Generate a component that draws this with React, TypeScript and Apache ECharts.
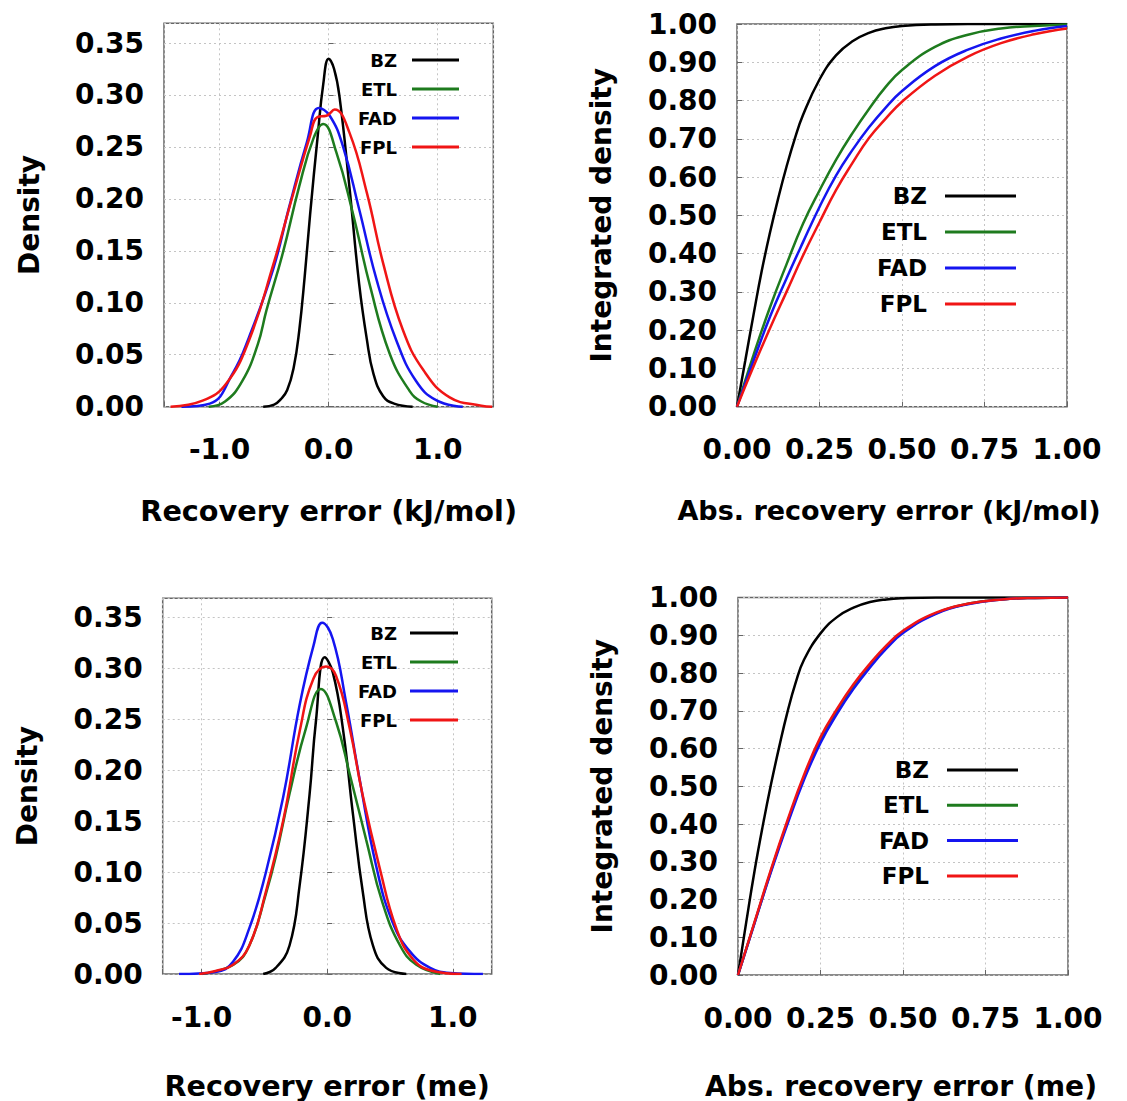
import React, { useEffect, useRef } from 'react';
import * as echarts from 'echarts';

// ---------- data ----------
const seriesNames = ['BZ', 'ETL', 'FAD', 'FPL'];
const seriesColors = ['#000000', '#1e7b1e', '#1515f0', '#f01515'];

// Top-left: density of recovery error (kJ/mol)
const kjBZx = [-0.6, -0.5, -0.44, -0.38, -0.32, -0.27, -0.22, -0.17, -0.1, -0.05, 0.0, 0.05, 0.1, 0.19, 0.28, 0.35, 0.41, 0.5, 0.6, 0.77];
const kjBZy = [0, 0.002, 0.007, 0.016, 0.038, 0.073, 0.125, 0.185, 0.261, 0.31, 0.335, 0.325, 0.298, 0.212, 0.118, 0.065, 0.032, 0.01, 0.003, 0];
const kjETLx = [-1.1, -0.95, -0.79, -0.65, -0.57, -0.42, -0.27, -0.14, -0.05, 0.07, 0.22, 0.38, 0.56, 0.74, 0.85, 1.0];
const kjETLy = [0, 0.005, 0.025, 0.06, 0.093, 0.148, 0.212, 0.258, 0.272, 0.245, 0.187, 0.116, 0.051, 0.0155, 0.005, 0];
const kjFADx = [-1.35, -1.09, -0.88, -0.73, -0.51, -0.36, -0.2, -0.09, 0.01, 0.13, 0.28, 0.44, 0.62, 0.8, 0.99, 1.23];
const kjFADy = [0, 0.003, 0.032, 0.067, 0.132, 0.193, 0.2545, 0.2875, 0.28, 0.251, 0.19, 0.122, 0.064, 0.025, 0.006, 0];
const kjFPLx = [-1.45, -1.15, -0.94, -0.73, -0.51, -0.33, -0.17, -0.1, -0.02, 0.055, 0.19, 0.35, 0.5, 0.68, 0.87, 1.11, 1.4, 1.5];
const kjFPLy = [0, 0.006, 0.022, 0.064, 0.136, 0.203, 0.261, 0.279, 0.28, 0.286, 0.264, 0.206, 0.138, 0.074, 0.035, 0.009, 0.001, 0];

// Bottom-left: density of recovery error (me)
const meBZx = [-0.51, -0.41, -0.3, -0.22, -0.14, -0.09, -0.02, 0.045, 0.125, 0.205, 0.284, 0.364, 0.47, 0.63];
const meBZy = [0, 0.006, 0.028, 0.0865, 0.177, 0.248, 0.311, 0.296, 0.241, 0.157, 0.08, 0.028, 0.006, 0];
const meETLx = [-1.0, -0.75, -0.62, -0.49, -0.41, -0.3, -0.17, -0.05, 0.07, 0.18, 0.31, 0.44, 0.58, 0.71, 0.9];
const meETLy = [0, 0.009, 0.028, 0.078, 0.115, 0.177, 0.241, 0.28, 0.248, 0.196, 0.132, 0.07, 0.028, 0.009, 0];
const meFADx = [-1.18, -0.89, -0.75, -0.62, -0.49, -0.35, -0.22, -0.11, -0.04, 0.045, 0.15, 0.26, 0.39, 0.52, 0.66, 0.82, 0.98, 1.24];
const meFADy = [0, 0.002, 0.012, 0.045, 0.099, 0.174, 0.264, 0.322, 0.345, 0.329, 0.267, 0.19, 0.106, 0.051, 0.022, 0.006, 0.001, 0];
const meFPLx = [-1.02, -0.89, -0.75, -0.62, -0.49, -0.35, -0.22, -0.11, -0.01, 0.07, 0.18, 0.28, 0.42, 0.55, 0.68, 0.84, 1.07];
const meFPLy = [0, 0.003, 0.009, 0.028, 0.08, 0.151, 0.238, 0.29, 0.302, 0.293, 0.241, 0.177, 0.103, 0.045, 0.015, 0.003, 0];

// Right column: integrated density vs abs. recovery error
const cdfBZx = [0, 0.025, 0.05, 0.075, 0.1, 0.125, 0.15, 0.175, 0.2, 0.25, 0.3, 0.35, 0.4, 0.45, 0.5, 0.6, 0.7, 1.0];
const cdfX = [0, 0.05, 0.1, 0.15, 0.2, 0.25, 0.3, 0.35, 0.4, 0.45, 0.5, 0.6, 0.7, 0.8, 0.9, 1.0];

const kjCdfBZ = [0, 0.12, 0.24, 0.355, 0.455, 0.545, 0.627, 0.7, 0.762, 0.855, 0.918, 0.955, 0.977, 0.989, 0.995, 0.999, 1.0, 1.0];
const kjCdfETL = [0, 0.135, 0.26, 0.372, 0.478, 0.565, 0.645, 0.715, 0.778, 0.835, 0.88, 0.94, 0.972, 0.988, 0.995, 0.999];
const kjCdfFAD = [0, 0.12, 0.235, 0.335, 0.43, 0.522, 0.604, 0.671, 0.73, 0.781, 0.825, 0.89, 0.933, 0.962, 0.982, 0.995];
const kjCdfFPL = [0, 0.105, 0.205, 0.3, 0.395, 0.482, 0.566, 0.637, 0.702, 0.752, 0.797, 0.865, 0.915, 0.95, 0.973, 0.988];

const meCdfBZ = [0, 0.14, 0.275, 0.395, 0.505, 0.605, 0.697, 0.775, 0.835, 0.905, 0.948, 0.973, 0.988, 0.995, 0.998, 1.0, 1.0, 1.0];
const meCdfETL = [0, 0.138, 0.276, 0.405, 0.523, 0.622, 0.698, 0.764, 0.82, 0.869, 0.909, 0.958, 0.984, 0.995, 0.999, 1.0];
const meCdfFAD = [0, 0.137, 0.273, 0.4, 0.517, 0.615, 0.692, 0.758, 0.815, 0.865, 0.906, 0.957, 0.983, 0.995, 0.999, 1.0];
const meCdfFPL = [0, 0.14, 0.28, 0.41, 0.53, 0.63, 0.705, 0.77, 0.825, 0.873, 0.912, 0.96, 0.984, 0.995, 0.999, 1.0];

const densityYTicks = 0.05;
const cdfYTicks = 0.1;
const cdfXTicks = 0.25;

// ---------- helpers ----------
const FONT = 'DejaVu Sans';
const zip = (xs: number[], ys: number[]) => xs.map((x, i) => [x, ys[i]]);

const labelStyle = { fontFamily: FONT, fontWeight: 'bold' as const, fontSize: 28, color: '#000' };
const splitLine = { show: true, lineStyle: { color: '#c4c4c4', type: [2, 3] as any, width: 1 } };
const axisTick = { show: true, inside: true, length: 5, lineStyle: { color: '#666', width: 1 } };

const isMultiple = (v: number, step: number) => Math.abs(v / step - Math.round(v / step)) < 1e-6;

function mkSeries(name: string, idx: number, xs: number[], ys: number[]) {
  const c = seriesColors[seriesNames.indexOf(name)];
  return {
    type: 'line',
    name,
    xAxisIndex: idx,
    yAxisIndex: idx,
    data: zip(xs, ys),
    symbol: 'none',
    showSymbol: false,
    smooth: 0.45,
    clip: true,
    lineStyle: { width: 2.5, color: c },
    itemStyle: { color: c },
    z: 3,
  };
}

function mkLegend(right: number, top: number, fontSize: number, lineH: number, gap: number, width: number, pad: number) {
  return {
    data: seriesNames,
    orient: 'vertical',
    align: 'right',
    right,
    top,
    padding: 0,
    itemGap: gap,
    itemWidth: width,
    itemHeight: 3,
    icon: 'rect',
    selectedMode: false,
    itemStyle: { borderWidth: 0 },
    textStyle: {
      fontFamily: FONT,
      fontWeight: 'bold',
      fontSize,
      lineHeight: lineH,
      color: '#000',
      padding: [0, pad, 0, 0],
    },
  };
}

function densityX(idx: number, lim: number, name: string, nameGap: number, nameSize: number) {
  return {
    type: 'value',
    gridIndex: idx,
    min: -lim,
    max: lim,
    splitNumber: 3,
    name,
    nameLocation: 'middle',
    nameGap,
    nameTextStyle: { ...labelStyle, fontSize: nameSize },
    axisLine: { show: false },
    axisTick,
    splitLine,
    axisLabel: {
      ...labelStyle,
      margin: 29,
      formatter: (v: number) => (isMultiple(v, 1) ? v.toFixed(1) : ''),
    },
  };
}

function densityY(idx: number, max: number) {
  return {
    type: 'value',
    gridIndex: idx,
    min: 0,
    max,
    interval: densityYTicks,
    name: 'Density',
    nameLocation: 'middle',
    nameGap: 121,
    nameTextStyle: labelStyle,
    axisLine: { show: false },
    axisTick,
    splitLine,
    axisLabel: {
      ...labelStyle,
      margin: 20,
      formatter: (v: number) => (isMultiple(v, densityYTicks) ? v.toFixed(2) : ''),
    },
  };
}

function cdfXAxis(idx: number, name: string, nameGap: number, nameSize: number, shiftLeft: number) {
  return {
    type: 'value',
    gridIndex: idx,
    min: 0,
    max: 1,
    interval: cdfXTicks,
    name,
    nameLocation: 'middle',
    nameGap,
    nameTextStyle: { ...labelStyle, fontSize: nameSize, padding: [0, shiftLeft * 2, 0, 0] },
    axisLine: { show: false },
    axisTick,
    splitLine,
    axisLabel: { ...labelStyle, margin: 29, formatter: (v: number) => v.toFixed(2) },
  };
}

function cdfYAxis(idx: number) {
  return {
    type: 'value',
    gridIndex: idx,
    min: 0,
    max: 1,
    interval: cdfYTicks,
    name: 'Integrated density',
    nameLocation: 'middle',
    nameGap: 122,
    nameTextStyle: labelStyle,
    axisLine: { show: false },
    axisTick,
    splitLine,
    axisLabel: { ...labelStyle, margin: 20, formatter: (v: number) => v.toFixed(2) },
  };
}

const gridBase = { show: true, borderColor: '#666', borderWidth: 1.5, backgroundColor: 'transparent', containLabel: false };

export default function App() {
  const ref = useRef<HTMLDivElement>(null);

  useEffect(() => {
    if (!ref.current) return;
    const chart = echarts.init(ref.current, undefined, { renderer: 'svg' });
    const option: any = {
      animation: false,
      backgroundColor: '#ffffff',
      grid: [
        { ...gridBase, left: 164, top: 23.3, width: 329.3, height: 383.4 },
        { ...gridBase, left: 737, top: 24, width: 330, height: 382.7 },
        { ...gridBase, left: 162.7, top: 598.3, width: 329, height: 381 },
        { ...gridBase, left: 738, top: 597.5, width: 330, height: 381.8 },
      ],
      xAxis: [
        densityX(0, 1.51, 'Recovery error (kJ/mol)', 90, 28.7),
        cdfXAxis(1, 'Abs. recovery error (kJ/mol)', 90, 27, 13),
        densityX(2, 1.31, 'Recovery error (me)', 97, 28.6),
        cdfXAxis(3, 'Abs. recovery error (me)', 97, 28.2, 2),
      ],
      yAxis: [densityY(0, 0.369), cdfYAxis(1), densityY(2, 0.369), cdfYAxis(3)],
      legend: [
        mkLegend(668, 51, 18, 18, 11, 47, 10),
        mkLegend(111, 184, 23, 24, 12, 71, 13),
        mkLegend(669, 624, 18, 18, 11, 48, 8),
        mkLegend(109, 758, 23, 24, 11.3, 71, 13),
      ],
      series: [
        mkSeries('BZ', 0, kjBZx, kjBZy),
        mkSeries('ETL', 0, kjETLx, kjETLy),
        mkSeries('FAD', 0, kjFADx, kjFADy),
        mkSeries('FPL', 0, kjFPLx, kjFPLy),
        mkSeries('BZ', 1, cdfBZx, kjCdfBZ),
        mkSeries('ETL', 1, cdfX, kjCdfETL),
        mkSeries('FAD', 1, cdfX, kjCdfFAD),
        mkSeries('FPL', 1, cdfX, kjCdfFPL),
        mkSeries('BZ', 2, meBZx, meBZy),
        mkSeries('ETL', 2, meETLx, meETLy),
        mkSeries('FAD', 2, meFADx, meFADy),
        mkSeries('FPL', 2, meFPLx, meFPLy),
        mkSeries('BZ', 3, cdfBZx, meCdfBZ),
        mkSeries('ETL', 3, cdfX, meCdfETL),
        mkSeries('FAD', 3, cdfX, meCdfFAD),
        mkSeries('FPL', 3, cdfX, meCdfFPL),
      ],
    };
    chart.setOption(option);
    return () => chart.dispose();
  }, []);

  return (
    <div
      ref={ref}
      style={{ position: 'absolute', left: 0, top: 0, width: 1127, height: 1101, background: '#fff' }}
    />
  );
}
